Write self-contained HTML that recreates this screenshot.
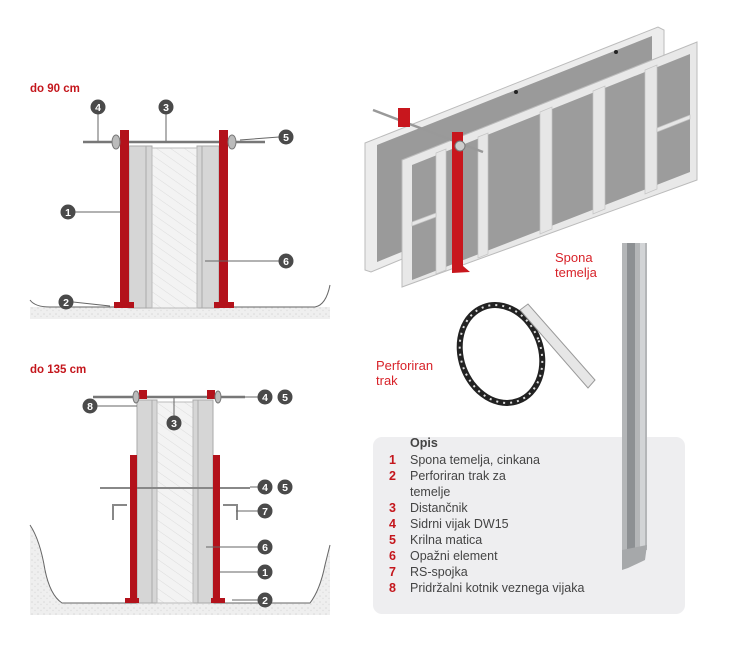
<!DOCTYPE html>
<html><head><meta charset="utf-8"><style>
body{margin:0;background:#fff;width:733px;height:665px;overflow:hidden}
svg{display:block;font-family:"Liberation Sans",sans-serif}
.c{fill:#4a4a4a}.n{fill:#fff;font-size:10.5px;font-weight:bold;text-anchor:middle}
.l{stroke:#666;stroke-width:1;fill:none}
.lg{font-size:12.5px;fill:#444}.ln{font-size:12.5px;fill:#c4161c;font-weight:bold}
</style></head><body>
<svg width="733" height="665" viewBox="0 0 733 665">
<defs>
<pattern id="h" width="8" height="8" patternUnits="userSpaceOnUse" patternTransform="rotate(-55)"><rect width="8" height="8" fill="#f3f3f3"/><line x1="0" y1="0" x2="0" y2="8" stroke="#dcdcdc" stroke-width="1"/></pattern>
<pattern id="g" width="6" height="6" patternUnits="userSpaceOnUse"><rect width="6" height="6" fill="#efefef"/><circle cx="2" cy="2" r=".8" fill="#d8d8d8"/><circle cx="5" cy="4.5" r=".7" fill="#dedede"/></pattern>
</defs>
<text x="30" y="92" fill="#c4161c" font-size="11.5" font-weight="bold">do 90 cm</text>
<rect x="30" y="307" width="300" height="12" fill="url(#g)"/>
<path d="M30 300 Q35 307 50 307 L315 307 Q326 305 330 285" class="l" stroke="#aaa"/>
<rect x="129" y="146" width="23" height="162" fill="#d6d6d6" stroke="#aaa"/>
<rect x="197" y="146" width="22" height="162" fill="#d6d6d6" stroke="#aaa"/>
<line x1="146" y1="146" x2="146" y2="308" stroke="#aaa"/><line x1="202" y1="146" x2="202" y2="308" stroke="#aaa"/>
<rect x="152" y="148" width="45" height="160" fill="url(#h)" stroke="#bbb"/>
<line x1="83" y1="142" x2="265" y2="142" stroke="#777" stroke-width="2.5"/>
<rect x="120" y="130" width="9" height="178" fill="#b3121b"/>
<rect x="219" y="130" width="9" height="178" fill="#b3121b"/>
<rect x="114" y="302" width="20" height="6" fill="#b3121b"/><rect x="214" y="302" width="20" height="6" fill="#b3121b"/>
<ellipse cx="116" cy="142" rx="4" ry="7" fill="#bbb" stroke="#777"/><ellipse cx="232" cy="142" rx="4" ry="7" fill="#bbb" stroke="#777"/>
<path d="M98 114 V141 M166 114 V141 M279 137 L240 140 M75 212 H120 M279 261 H205 M73 302 L110 306" class="l"/>
<g><circle cx="98" cy="107" r="7.5" class="c"/><text x="98" y="111" class="n">4</text>
<circle cx="166" cy="107" r="7.5" class="c"/><text x="166" y="111" class="n">3</text>
<circle cx="286" cy="137" r="7.5" class="c"/><text x="286" y="141" class="n">5</text>
<circle cx="68" cy="212" r="7.5" class="c"/><text x="68" y="216" class="n">1</text>
<circle cx="286" cy="261" r="7.5" class="c"/><text x="286" y="265" class="n">6</text>
<circle cx="66" cy="302" r="7.5" class="c"/><text x="66" y="306" class="n">2</text></g>
<text x="30" y="373" fill="#c4161c" font-size="11.5" font-weight="bold">do 135 cm</text>
<path d="M30 525 Q40 540 45 570 Q50 595 62 603 L310 603 Q320 590 325 565 L330 545 L330 615 L30 615Z" fill="url(#g)"/>
<path d="M30 525 Q40 540 45 570 Q50 595 62 603 L310 603 Q320 590 325 565 L330 545" class="l" stroke="#aaa"/>
<rect x="137" y="400" width="20" height="203" fill="#d6d6d6" stroke="#aaa"/>
<rect x="193" y="400" width="20" height="203" fill="#d6d6d6" stroke="#aaa"/>
<line x1="152" y1="400" x2="152" y2="603" stroke="#aaa"/><line x1="198" y1="400" x2="198" y2="603" stroke="#aaa"/>
<rect x="157" y="402" width="36" height="201" fill="url(#h)" stroke="#bbb"/>
<line x1="93" y1="397" x2="245" y2="397" stroke="#777" stroke-width="2.5"/>
<line x1="100" y1="488" x2="250" y2="488" stroke="#888" stroke-width="2"/>
<rect x="139" y="390" width="8" height="9" fill="#b3121b"/><rect x="207" y="390" width="8" height="9" fill="#b3121b"/>
<rect x="130" y="455" width="7" height="148" fill="#b3121b"/><rect x="213" y="455" width="7" height="148" fill="#b3121b"/>
<rect x="125" y="598" width="14" height="5" fill="#b3121b"/><rect x="211" y="598" width="14" height="5" fill="#b3121b"/>
<path d="M112 505 H127 M113 505 V520 M223 505 H238 M237 505 V520" stroke="#888" stroke-width="2" fill="none"/>
<ellipse cx="136" cy="397" rx="3" ry="6" fill="#bbb" stroke="#777"/><ellipse cx="218" cy="397" rx="3" ry="6" fill="#bbb" stroke="#777"/>
<path d="M97 406 H137 M174 416 V398 M258 397 H245 M258 487 H250 M258 511 H236 M258 547 H206 M258 572 H220 M258 600 H232" class="l"/>
<g><circle cx="265" cy="397" r="7.5" class="c"/><text x="265" y="401" class="n">4</text>
<circle cx="285" cy="397" r="7.5" class="c"/><text x="285" y="401" class="n">5</text>
<circle cx="90" cy="406" r="7.5" class="c"/><text x="90" y="410" class="n">8</text>
<circle cx="174" cy="423" r="7.5" class="c"/><text x="174" y="427" class="n">3</text>
<circle cx="265" cy="487" r="7.5" class="c"/><text x="265" y="491" class="n">4</text>
<circle cx="285" cy="487" r="7.5" class="c"/><text x="285" y="491" class="n">5</text>
<circle cx="265" cy="511" r="7.5" class="c"/><text x="265" y="515" class="n">7</text>
<circle cx="265" cy="547" r="7.5" class="c"/><text x="265" y="551" class="n">6</text>
<circle cx="265" cy="572" r="7.5" class="c"/><text x="265" y="576" class="n">1</text>
<circle cx="265" cy="600" r="7.5" class="c"/><text x="265" y="604" class="n">2</text></g>
<polygon points="365,143 658,27 664,30 664,150 371,272 365,270" fill="#ececec" stroke="#bbb"/>
<polygon points="377,145 652,36 652,150 377,262" fill="#9a9a9a"/>
<circle cx="516" cy="92" r="2" fill="#222"/><circle cx="616" cy="52" r="2" fill="#222"/>
<polygon points="402,160 697,42 697,180 402,287" fill="#e8e8e8" stroke="#bbb"/>
<polygon points="412,165 690,54 690,172 412,280" fill="#9c9c9c"/>
<g fill="#e6e6e6" stroke="#c4c4c4" stroke-width=".7">
<polygon points="436,153 446,149 446,270 436,274"/><polygon points="478,137 488,133 488,254 478,258"/>
<polygon points="540,112 552,107 552,229 540,234"/><polygon points="593,91 605,86 605,209 593,214"/>
<polygon points="645,70 657,65 657,189 645,194"/>
<polygon points="412,222 436,213 436,217 412,226"/><polygon points="657,128 690,115 690,119 657,132"/>
</g>
<line x1="373" y1="110" x2="483" y2="152" stroke="#999" stroke-width="2.5"/>
<polygon points="398,108 410,108 410,127 398,127" fill="#c8161d"/>
<polygon points="452,132 463,132 463,266 470,272 452,273" fill="#c8161d"/>
<circle cx="460" cy="146" r="5" fill="#ccc" stroke="#777"/>
<text x="555" y="262" fill="#d8232a" font-size="13">Spona</text>
<text x="555" y="277" fill="#d8232a" font-size="13">temelja</text>
<text x="376" y="370" fill="#d8232a" font-size="13">Perforiran</text>
<text x="376" y="385" fill="#d8232a" font-size="13">trak</text>
<ellipse cx="501" cy="354" rx="40" ry="50" fill="none" stroke="#222" stroke-width="6" transform="rotate(-20 501 354)"/>
<ellipse cx="501" cy="354" rx="40" ry="50" fill="none" stroke="#ddd" stroke-width="2" stroke-dasharray="2 5" transform="rotate(-20 501 354)"/>
<polygon points="520,310 528,304 595,380 588,388" fill="#e6e6e6" stroke="#999"/>
<rect x="373" y="437" width="312" height="177" rx="9" fill="#eeeef0"/>
<rect x="622" y="243" width="25" height="307" fill="#b4b6b8"/>
<rect x="627" y="243" width="8" height="307" fill="#8d9093"/>
<rect x="640" y="243" width="5" height="307" fill="#d2d4d6"/>
<polygon points="622,550 647,545 645,560 628,568 622,570" fill="#a6a8aa"/>
<text x="410" y="447" font-size="12.5" font-weight="bold" fill="#444">Opis</text>
<g>
<text x="389" y="464" class="ln">1</text><text x="410" y="464" class="lg">Spona temelja, cinkana</text>
<text x="389" y="480" class="ln">2</text><text x="410" y="480" class="lg">Perforiran trak za</text>
<text x="410" y="496" class="lg">temelje</text>
<text x="389" y="512" class="ln">3</text><text x="410" y="512" class="lg">Distančnik</text>
<text x="389" y="528" class="ln">4</text><text x="410" y="528" class="lg">Sidrni vijak DW15</text>
<text x="389" y="544" class="ln">5</text><text x="410" y="544" class="lg">Krilna matica</text>
<text x="389" y="560" class="ln">6</text><text x="410" y="560" class="lg">Opažni element</text>
<text x="389" y="576" class="ln">7</text><text x="410" y="576" class="lg">RS-spojka</text>
<text x="389" y="592" class="ln">8</text><text x="410" y="592" class="lg">Pridržalni kotnik veznega vijaka</text>
</g>
</svg>
</body></html>
